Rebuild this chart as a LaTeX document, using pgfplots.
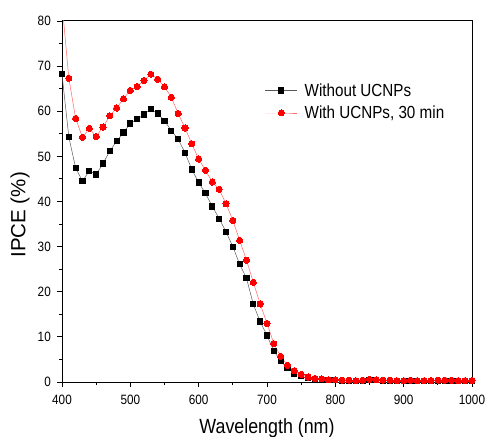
\documentclass[border=0pt]{standalone}
\usepackage{fontspec}
\setmainfont{Liberation Sans}[FakeStretch=0.87]
\newfontfamily\plainsans{Liberation Sans}
\usepackage{pgfplots}
\pgfplotsset{compat=1.18}
\usepackage{pgfplotstable}
\pgfplotstableread{
x y
400 68.2
410 54.3
420 47.4
430 44.5
440 46.8
450 46.0
460 48.4
470 51.2
480 53.4
490 55.3
500 57.3
510 58.2
520 59.3
530 60.5
540 59.5
550 57.9
560 55.7
570 53.8
580 50.8
590 47.1
600 44.2
610 41.8
620 38.9
630 36.2
640 33.3
650 30.0
660 26.1
670 23.0
680 17.2
690 13.4
700 10.3
710 6.9
720 4.6
730 3.1
740 1.8
750 1.3
760 0.9
770 0.6
780 0.5
790 0.4
800 0.4
810 0.3
820 0.3
830 0.3
840 0.3
850 0.5
860 0.4
870 0.3
880 0.3
890 0.3
900 0.3
910 0.3
920 0.3
930 0.2
940 0.2
950 0.3
960 0.3
970 0.3
980 0.2
990 0.2
1000 0.2
}\black
\pgfplotstableread{
x y
400 84.0
410 67.3
420 58.4
430 54.2
440 56.2
450 54.4
460 56.5
470 59.0
480 60.7
490 62.8
500 64.6
510 65.5
520 66.8
530 68.2
540 67.1
550 65.4
560 63.1
570 59.5
580 56.3
590 52.8
600 49.4
610 46.9
620 44.3
630 42.7
640 39.5
650 35.8
660 31.4
670 27.0
680 22.1
690 17.3
700 13.0
710 8.5
720 5.7
730 3.7
740 2.5
750 1.7
760 1.1
770 0.8
780 0.7
790 0.5
800 0.5
810 0.4
820 0.4
830 0.3
840 0.4
850 0.6
860 0.5
870 0.4
880 0.4
890 0.3
900 0.3
910 0.4
920 0.3
930 0.3
940 0.3
950 0.4
960 0.4
970 0.4
980 0.3
990 0.3
1000 0.3
}\red
\begin{document}
\begin{tikzpicture}
\path[use as bounding box] (0,0) rectangle (486pt,436pt);
\begin{axis}[
  at={(62pt,54pt)}, anchor=south west,
  scale only axis, width=410pt, height=361pt,
  xmin=400, xmax=1000, ymin=0, ymax=80,
  xtick={400,500,...,1000}, ytick={0,10,...,80},
  minor xtick={450,550,...,950}, minor ytick={5,15,...,75},
  tick align=outside,
  major tick length=5pt, minor tick length=3pt,
  xtick pos=bottom, ytick pos=left,
  every tick/.style={black, line width=0.9pt},
  axis line style={black, line width=1pt},
  /pgf/number format/assume math mode=true,
  /pgf/number format/1000 sep={},
  tick label style={font=\fontsize{13.5}{13.5}\selectfont},
  yticklabel style={inner sep=0pt, xshift=-6pt},
  xticklabel style={inner sep=0pt, yshift=-8pt},
  xlabel={Wavelength (nm)},
  ylabel={IPCE (\%)},
  xlabel style={font=\fontsize{20.5}{20.5}\selectfont, at={(axis description cs:0.5,-0.1)}, anchor=north, inner sep=0pt},
  ylabel style={font=\plainsans\fontsize{20.5}{20.5}\selectfont, at={(axis description cs:-0.102,0.463)}, anchor=center, inner sep=0pt},
  legend style={at={(axis description cs:0.495,0.833)}, anchor=north west, draw=none, fill=none,
    font=\fontsize{17.5}{17.5}\selectfont, row sep=4pt, inner sep=0pt,
    /tikz/every odd column/.append style={column sep=5pt}},
  legend cell align=left,
  legend image code/.code={\draw[mark repeat=2,mark phase=2] plot coordinates {(0pt,0pt)(16pt,0pt)(32pt,0pt)};},
]
\addplot[color=black!65, line width=0.5pt, mark=square*, mark size=2.6pt, mark options={black, solid, line width=0pt}] table[x=x,y=y] {\black};
\addlegendentry{Without UCNPs}
\addplot[color=red!60, line width=0.5pt, mark=*, mark size=3.1pt, mark options={red, draw=red, fill=red, line width=0pt}] table[x=x,y=y] {\red};
\addlegendentry{With UCNPs, 30 min}
\end{axis}
\end{tikzpicture}
\end{document}
